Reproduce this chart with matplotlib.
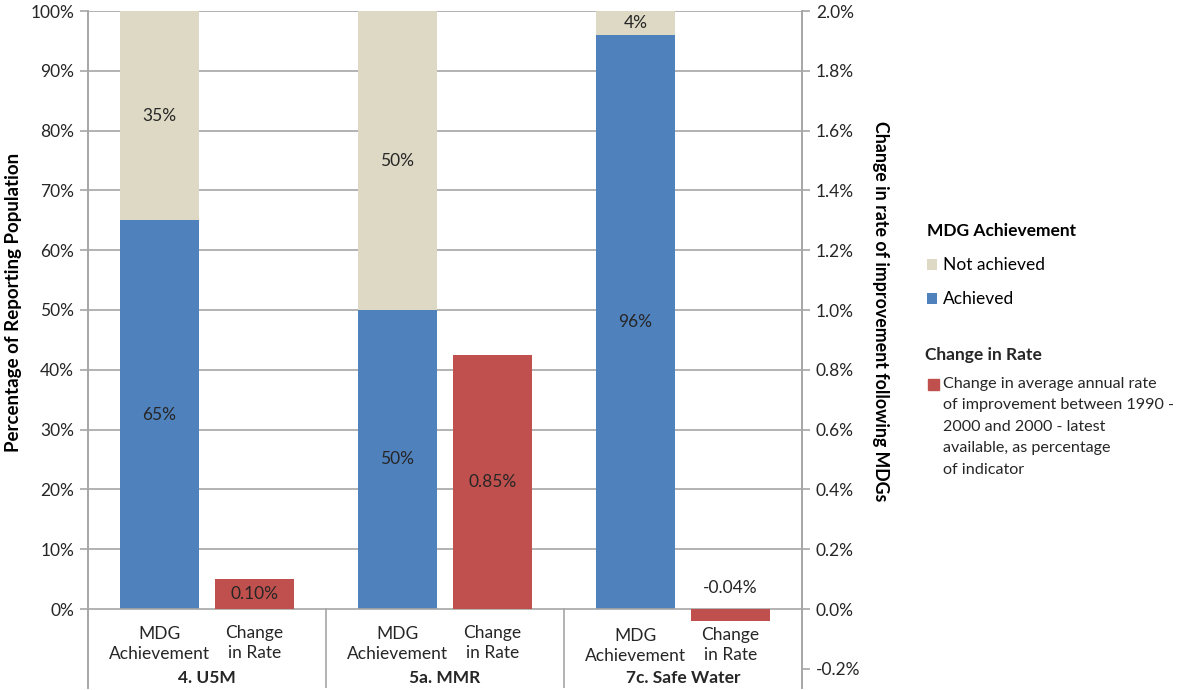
import matplotlib.pyplot as plt
from matplotlib.patches import Rectangle
from matplotlib.ticker import FuncFormatter

plt.rcParams['font.family'] = ['Lato', 'DejaVu Sans']

# ---------------------------------
# Data
# ---------------------------------
groups = ["4. U5M", "5a. MMR", "7c. Safe Water"]
achieved = [65, 50, 96]
not_achieved = [35, 50, 4]
change_rate = [0.10, 0.85, -0.04]
change_label = ("Change in average annual rate\nof improvement between 1990 -\n"
                "2000 and 2000 - latest\navailable, as percentage\nof indicator")

blue = "#4F81BD"
beige = "#DDD9C4"
red = "#C0504D"
grid_c = "#A6A6A6"
text_c = "#262626"
fs = 12.5

# ---------------------------------
# Figure
# ---------------------------------
fig = plt.figure(figsize=(11.89, 6.90), dpi=100)
ax = fig.add_axes([88 / 1189, 2 / 690, (802 - 88) / 1189, (688 - 11) / 690])
ax2 = ax.twinx()

ymin = -79 / 59.8 * 10
ax.set_ylim(ymin, 100)
ax2.set_ylim(ymin / 50, 2.0)
ax.set_xlim(-0.5, 5.5)

mdg_x = [2 * i + 0.1 for i in range(len(groups))]
chg_x = [2 * i + 0.9 for i in range(len(groups))]
w = 0.67

ax.bar(mdg_x, achieved, w, color=blue, zorder=3, label="Achieved")
ax.bar(mdg_x, not_achieved, w, bottom=achieved, color=beige, zorder=3,
       label="Not achieved")
ax2.bar(chg_x, change_rate, w, color=red, zorder=3)

# gridlines and category axis
for v in range(10, 101, 10):
    ax.axhline(v, color=grid_c, lw=1.2, zorder=1)
ax.axhline(0, color=grid_c, lw=1.2, zorder=4)
zero_frac = -ymin / (100 - ymin)
for sep in [1.5, 3.5]:
    ax.axvline(sep, 0, zero_frac, color=grid_c, lw=1.2)

# value labels
for x, a, n in zip(mdg_x, achieved, not_achieved):
    ax.text(x, a / 2, f"{a}%", ha="center", va="center", fontsize=fs, color=text_c, zorder=5)
    ax.text(x, a + n / 2, f"{n}%", ha="center", va="center", fontsize=fs, color=text_c, zorder=5)
for x, c in zip(chg_x, change_rate):
    if c >= 0:
        ax2.text(x, c / 2, f"{c:.2f}%", ha="center", va="center", fontsize=fs,
                 color=text_c, zorder=5)
    else:
        ax2.annotate(f"{c:.2f}%", (x, 0), xytext=(0, 21), textcoords="offset pixels",
                     ha="center", va="center", fontsize=fs, color=text_c)

# category labels
for i, g in enumerate(groups):
    dy = 2 if i == 2 else 0
    ax.annotate("MDG\nAchievement", (mdg_x[i], 0), xytext=(0, -35 - dy),
                textcoords="offset pixels", ha="center", va="center",
                fontsize=fs, color=text_c, linespacing=1.25)
    ax.annotate("Change\nin Rate", (chg_x[i], 0), xytext=(0, -34 - dy),
                textcoords="offset pixels", ha="center", va="center",
                fontsize=fs, color=text_c, linespacing=1.25)
    ax.annotate(g, ((mdg_x[i] + chg_x[i]) / 2, 0), xytext=(0, -69),
                textcoords="offset pixels", ha="center", va="center",
                fontsize=fs, fontweight="bold", color=text_c)

# axes styling
ax.set_xticks([])
ax.set_yticks(range(0, 101, 10))
ax.yaxis.set_major_formatter(FuncFormatter(lambda v, p: f"{v:.0f}%"))
ax2.set_yticks([v / 10 for v in range(-2, 21, 2)])
ax2.yaxis.set_major_formatter(FuncFormatter(lambda v, p: f"{v:.1f}%"))
for a in (ax, ax2):
    for s in ("top", "bottom"):
        a.spines[s].set_visible(False)
    a.spines["left"].set_color(grid_c)
    a.spines["right"].set_color(grid_c)
    a.spines["left"].set_linewidth(1.2)
    a.spines["right"].set_linewidth(1.2)
    a.tick_params(axis="y", colors=grid_c, labelcolor=text_c, labelsize=fs,
                  length=6, width=1.2, pad=4)

ax.set_ylabel("Percentage of Reporting Population", fontsize=13.5, fontweight="bold",
              color="black")
ax.yaxis.set_label_coords(-0.092, 0.57)
ax2.set_ylabel("Change in rate of improvement following MDGs", fontsize=12.8,
               fontweight="bold", color="black", rotation=-90, va="bottom")
ax2.yaxis.set_label_coords(1.098, 0.556)

# legend: MDG Achievement
h, l = ax.get_legend_handles_labels()
leg1 = fig.legend([h[1], h[0]], [l[1], l[0]], title="MDG Achievement",
                  loc="upper left", bbox_to_anchor=(920 / 1189, 1 - 216 / 690),
                  frameon=False, fontsize=fs, title_fontsize=fs, alignment="left",
                  handlelength=0.6, handleheight=0.6, handletextpad=0.3,
                  labelspacing=1.05, borderaxespad=0)
leg1.get_title().set_fontweight("bold")

# legend: Change in Rate
fig.text(925 / 1189, 1 - 355 / 690, "Change in Rate", fontsize=fs, fontweight="bold",
         color=text_c, va="center", ha="left")
fig.patches.append(Rectangle((928 / 1189, 1 - 390 / 690), 11 / 1189, 11 / 690,
                             transform=fig.transFigure, color=red, figure=fig))
fig.text(943 / 1189, 1 - 377 / 690, change_label, fontsize=11.6, color=text_c,
         va="top", ha="left", linespacing=1.68)

plt.savefig("out.png", dpi=100)
